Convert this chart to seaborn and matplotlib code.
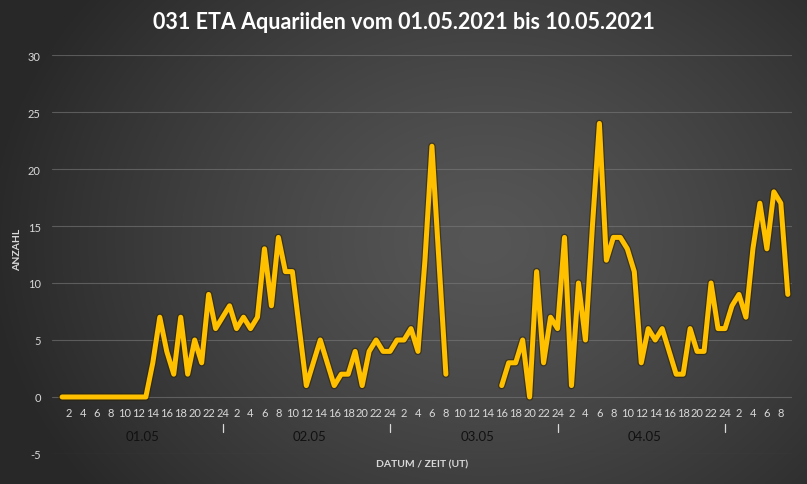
"""031 ETA Aquariiden 01.05.2021 - 10.05.2021, hourly counts."""
import matplotlib
matplotlib.use("Agg")
import matplotlib.pyplot as plt
import matplotlib.patheffects as pe
import numpy as np
import pandas as pd
import seaborn as sns

TITLE = "031 ETA Aquariiden vom 01.05.2021 bis 10.05.2021"
DAYS = ["01.05", "02.05", "03.05", "04.05", "05.05"]
DATE_LABELS = ["01.05", "02.05", "03.05", "04.05", ""]
HOURS_PER_DAY = [24, 24, 24, 24, 9]

# hourly counts, hour 1..24 per day (None = no observation)
counts_0105 = [0, 0, 0, 0, 0, 0, 0, 0, 0, 0, 0, 0, 0, 3, 7, 4, 2, 7, 2, 5, 3, 9, 6, 7]
counts_0205 = [8, 6, 7, 6, 7, 13, 8, 14, 11, 11, 6, 1, 3, 5, 3, 1, 2, 2, 4, 1, 4, 5, 4, 4]
counts_0305 = [5, 5, 6, 4, 12, 22, 12, 2, None, None, None, None, None, None, None,
               1, 3, 3, 5, 0, 11, 3, 7, 6]
counts_0405 = [14, 1, 10, 5, 15, 24, 12, 14, 14, 13, 11, 3, 6, 5, 6, 4, 2, 2, 6, 4, 4, 10, 6, 6]
counts_0505 = [8, 9, 7, 13, 17, 13, 18, 17, 9]

Y_TICKS = [-5, 0, 5, 10, 15, 20, 25, 30]

LINE_COLOR = "#FFC000"
TEXT_COLOR = "#D9D9D9"


def build_frame() -> pd.DataFrame:
    rows = []
    all_counts = [counts_0105, counts_0205, counts_0305, counts_0405, counts_0505]
    for day, n_hours, vals in zip(DAYS, HOURS_PER_DAY, all_counts):
        for h in range(1, n_hours + 1):
            rows.append({"day": day, "hour": h, "count": vals[h - 1]})
    df = pd.DataFrame(rows)
    df["pos"] = np.arange(len(df))
    df["count"] = pd.to_numeric(df["count"])
    # split into continuous segments at gaps
    df["segment"] = df["count"].isna().cumsum()
    return df


def draw_background(fig):
    bg = fig.add_axes([0, 0, 1, 1], zorder=0)
    h, w = 485, 807
    yy, xx = np.mgrid[0:h, 0:w]
    cx, cy = 0.60 * w, 0.50 * h
    d = np.sqrt(((xx - cx) / (0.62 * w)) ** 2 + ((yy - cy) / (0.85 * h)) ** 2)
    d = np.clip(d, 0, 1)
    light, dark = 0x56, 0x28
    v = (light - (light - dark) * d ** 1.3) / 255.0
    img = np.dstack([v, v, v])
    bg.imshow(img, aspect="auto", extent=[0, 1, 0, 1], origin="upper")
    bg.set_axis_off()


def main() -> None:
    df = build_frame()

    sns.set_theme(style="dark")
    plt.rcParams["font.family"] = ["Lato", "DejaVu Sans"]

    fig = plt.figure(figsize=(8.07, 4.85), dpi=100)
    draw_background(fig)

    ax = fig.add_axes([0.0644, 0.0619, 0.9170, 0.8226], zorder=1)
    ax.set_facecolor("none")

    for _, seg in df.dropna(subset=["count"]).groupby("segment"):
        sns.lineplot(
            data=seg, x="pos", y="count", ax=ax, color=LINE_COLOR,
            linewidth=3.6, solid_joinstyle="round", solid_capstyle="round",
            path_effects=[pe.Stroke(linewidth=5.4, foreground="#2a1f00", alpha=0.55), pe.Normal()],
            zorder=3,
        )

    ax.set_xlim(-1.45, len(df) - 0.4)
    ax.set_ylim(-5, 30)
    ax.set_yticks(Y_TICKS)
    ax.set_yticklabels([str(t) for t in Y_TICKS])
    ax.grid(axis="y", color="#7a7a7a", linewidth=0.8, alpha=0.6)
    ax.grid(axis="x", visible=False)
    for s in ax.spines.values():
        s.set_visible(False)
    # category axis crosses at zero, like the original
    ax.spines["bottom"].set_position(("data", 0))

    even = df[df["hour"] % 2 == 0]
    ax.set_xticks(even["pos"])
    ax.set_xticklabels(even["hour"].astype(str))
    ax.tick_params(axis="x", length=0, pad=7, labelsize=8, labelcolor=TEXT_COLOR)
    ax.tick_params(axis="y", length=0, pad=8, labelsize=8, labelcolor=TEXT_COLOR)

    for day, label in zip(DAYS, DATE_LABELS):
        sub = df[df["day"] == day]
        if label:
            center = (sub["pos"].min() + sub["pos"].max()) / 2
            ax.text(center, -3.45, label, ha="center", va="center",
                    fontsize=9.5, color="#111111")
        if sub["hour"].max() == 24:
            p = sub.loc[sub["hour"] == 24, "pos"].iloc[0]
            ax.plot([p, p], [-2.35, -3.05], color=TEXT_COLOR, linewidth=0.9, clip_on=False)

    ax.set_xlabel("")
    ax.set_ylabel("")
    fig.text(0.523, 0.041, "DATUM / ZEIT (UT)", ha="center", va="center", fontsize=7.5,
             fontweight="bold", color=TEXT_COLOR)
    fig.text(0.0223, 0.4845, "ANZAHL", ha="center", va="center", rotation=90, fontsize=7.5,
             fontweight="bold", color=TEXT_COLOR)

    fig.text(0.5, 0.953, TITLE, ha="center", va="center", fontsize=15.5,
             fontweight="bold", color="white")

    fig.savefig("out.png", dpi=100)
    plt.close(fig)


if __name__ == "__main__":
    main()
